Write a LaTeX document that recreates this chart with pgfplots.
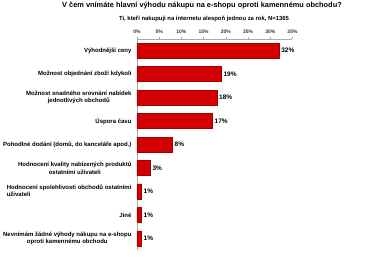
\documentclass[border=0pt]{standalone}
\usepackage{pgfplots}
\pgfplotsset{compat=1.18}
\usepackage{fontspec}
\setmainfont{Liberation Sans}
\definecolor{barred}{RGB}{210,0,0}
\definecolor{baredge}{RGB}{160,0,0}
\definecolor{axgray}{RGB}{170,170,170}
\begin{document}
\begin{tikzpicture}
\useasboundingbox (0,0) rectangle (370pt,258pt);
\node[font=\bfseries\fontsize{7.4}{8}\selectfont] at (202pt,252pt) {V čem vnímáte hlavní výhodu nákupu na e-shopu oproti kamennému obchodu?};
\node[font=\bfseries\fontsize{5.9}{7}\selectfont] at (204pt,239pt) {Ti, kteří nakupují na internetu alespoň jednou za rok, N=1365};
\begin{axis}[
  at={(137pt,219pt)}, anchor=north west,
  scale only axis, width=155.5pt, height=211pt,
  xbar, bar width=15pt,
  xmin=0, xmax=35, ymin=-0.5, ymax=8.5, y dir=reverse,
  axis x line*=top, axis y line*=left,
  axis line style={draw=axgray, line width=0.8pt, -},
  xtick={0,5,...,35},
  xticklabels={0\%,5\%,10\%,15\%,20\%,25\%,30\%,35\%},
  xticklabel style={font=\bfseries\fontsize{5}{5.5}\selectfont, text=black!80},
  x tick style={draw=axgray, line width=0.5pt},
  major tick length=2pt,
  tick align=outside,
  ytick={0,...,8},
  y tick style={draw=none},
  yticklabels={
    Výhodnější ceny,
    Možnost objednání zboží kdykoli,
    Možnost snadného srovnání nabídek\\jednotlivých obchodů,
    Úspora času,
    {Pohodlné dodání (domů, do kanceláře apod.)},
    Hodnocení kvality nabízených produktů\\ostatními uživateli,
    {\begin{tabular}{@{}l@{}}Hodnocení spolehlivosti obchodů ostatními\\uživateli\end{tabular}},
    Jiné,
    Nevnímám žádné výhody nákupu na e-shopu\\oproti kamennému obchodu},
  yticklabel style={font=\bfseries\fontsize{6}{7.5}\selectfont, align=center, text=black},
  /pgf/number format/assume math mode=true,
  point meta=x,
  nodes near coords={\pgfmathprintnumber{\pgfplotspointmeta}\%},
  nodes near coords style={font=\bfseries\fontsize{6.5}{7}\selectfont, text=black, inner sep=2pt},
]
\addplot[fill=barred, draw=baredge, line width=0.4pt] coordinates {
  (32,0) (19,1) (18,2) (17,3) (8,4) (3,5) (1,6) (1,7) (1,8)
};
\end{axis}
\end{tikzpicture}
\end{document}
